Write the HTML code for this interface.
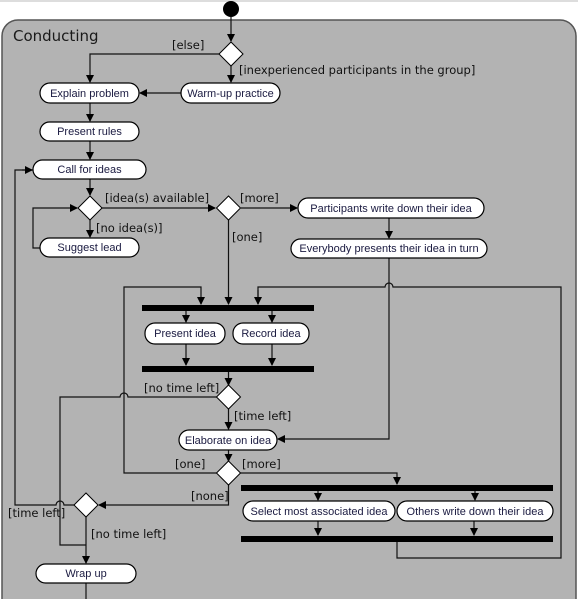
<!DOCTYPE html>
<html><head><meta charset="utf-8"><style>
html,body{margin:0;padding:0;background:#fff;}
svg{display:block;}
.b{fill:#fff;stroke:#000;stroke-width:1.2;}
.t{font-family:"Liberation Sans",sans-serif;font-size:11px;fill:#1a1a40;text-anchor:middle;}
.l{font-family:"DejaVu Sans",sans-serif;font-size:11.5px;fill:#111;}
.c{fill:none;stroke:#111;stroke-width:1.2;}
.d{fill:#fff;stroke:#000;stroke-width:1;}
</style></head><body>
<svg width="578" height="599" viewBox="0 0 578 599" xmlns="http://www.w3.org/2000/svg">
<defs><marker id="a" markerWidth="8" markerHeight="8" refX="7" refY="4" orient="auto" markerUnits="userSpaceOnUse"><path d="M0,0 L8,4 L0,8 z" fill="#000"/></marker></defs>
<rect x="0" y="0" width="578" height="2" fill="#ddd"/>
<rect x="2" y="20" width="574" height="600" rx="16" fill="#b3b3b3" stroke="#555" stroke-width="1.5"/>
<text x="13" y="41" font-family="'DejaVu Sans',sans-serif" font-size="15" fill="#1a1a1a">Conducting</text>
<circle cx="231" cy="9" r="8" fill="#000"/>
<!-- connectors -->
<path class="c" d="M231,17 V41" marker-end="url(#a)"/>
<path class="c" d="M219,54 H90 V82" marker-end="url(#a)"/>
<path class="c" d="M231,66 V82" marker-end="url(#a)"/>
<path class="c" d="M181,93 H140" marker-end="url(#a)"/>
<path class="c" d="M90,103 V121" marker-end="url(#a)"/>
<path class="c" d="M90,141 V159" marker-end="url(#a)"/>
<path class="c" d="M90,179 V195" marker-end="url(#a)"/>
<path class="c" d="M90,220 V237" marker-end="url(#a)"/>
<path class="c" d="M40,248 H33 V208 H77" marker-end="url(#a)"/>
<path class="c" d="M102,208 H215" marker-end="url(#a)"/>
<path class="c" d="M241,208 H297" marker-end="url(#a)"/>
<path class="c" d="M389,218 V238" marker-end="url(#a)"/>
<path class="c" d="M228.5,220 V304" marker-end="url(#a)"/>
<path class="c" d="M389,258 V439 H278" marker-end="url(#a)"/>
<path class="c" d="M258,304 V287 H385 A4,4 0 0 1 393,287 H561 V558 H397 V542"/>
<path class="c" d="M258,290 V304" marker-end="url(#a)"/>
<path class="c" d="M216.5,473 H124 V287 H201 V304" marker-end="url(#a)"/>
<path class="c" d="M186,311 V322" marker-end="url(#a)"/>
<path class="c" d="M272,311 V322" marker-end="url(#a)"/>
<path class="c" d="M186,344 V365" marker-end="url(#a)"/>
<path class="c" d="M272,344 V365" marker-end="url(#a)"/>
<path class="c" d="M228.5,372 V385" marker-end="url(#a)"/>
<path class="c" d="M216.5,397 H128 A4,4 0 0 0 120,397 H60 V545 H86"/>
<path class="c" d="M228.5,409 V429" marker-end="url(#a)"/>
<path class="c" d="M228.5,450 V461" marker-end="url(#a)"/>
<path class="c" d="M240.5,473 H397 V484" marker-end="url(#a)"/>
<path class="c" d="M228.5,485 V505 H99" marker-end="url(#a)"/>
<path class="c" d="M33,170 H15 V505 H56 A4,4 0 0 1 64,505 H74"/>
<path class="c" d="M22,170 H32" marker-end="url(#a)"/>
<path class="c" d="M86,517 V563" marker-end="url(#a)"/>
<path class="c" d="M86,583 V599"/>
<path class="c" d="M318,491 V500" marker-end="url(#a)"/>
<path class="c" d="M475,491 V500" marker-end="url(#a)"/>
<path class="c" d="M318,521 V535" marker-end="url(#a)"/>
<path class="c" d="M474,521 V535" marker-end="url(#a)"/>
<!-- bars -->
<rect x="142" y="305" width="172" height="6" fill="#000"/>
<rect x="142" y="366" width="172" height="6" fill="#000"/>
<rect x="241" y="485" width="312" height="6" fill="#000"/>
<rect x="241" y="536" width="312" height="6" fill="#000"/>
<!-- diamonds -->
<path class="d" d="M231,42 L243,54 L231,66 L219,54 z"/>
<path class="d" d="M90,196 L102,208 L90,220 L78,208 z"/>
<path class="d" d="M228.5,196 L240.5,208 L228.5,220 L216.5,208 z"/>
<path class="d" d="M228.5,385 L240.5,397 L228.5,409 L216.5,397 z"/>
<path class="d" d="M228.5,461 L240.5,473 L228.5,485 L216.5,473 z"/>
<path class="d" d="M86,493 L98,505 L86,517 L74,505 z"/>
<!-- boxes -->
<rect class="b" x="40" y="83" width="99" height="20" rx="10"/><text class="t" x="89.5" y="97">Explain problem</text>
<rect class="b" x="181" y="83" width="99" height="20" rx="10"/><text class="t" x="230.5" y="97">Warm-up practice</text>
<rect class="b" x="40" y="122" width="99" height="19" rx="9.5"/><text class="t" x="89.5" y="135">Present rules</text>
<rect class="b" x="33" y="160" width="113" height="19" rx="9.5"/><text class="t" x="89.5" y="173">Call for ideas</text>
<rect class="b" x="40" y="238" width="99" height="19" rx="9.5"/><text class="t" x="89.5" y="251">Suggest lead</text>
<rect class="b" x="298" y="198" width="186" height="20" rx="10"/><text class="t" x="391" y="212">Participants write down their idea</text>
<rect class="b" x="291" y="239" width="196" height="19" rx="9.5"/><text class="t" x="389" y="252">Everybody presents their idea in turn</text>
<rect class="b" x="145" y="323" width="80" height="21" rx="10"/><text class="t" x="185" y="337">Present idea</text>
<rect class="b" x="233" y="323" width="76" height="21" rx="10"/><text class="t" x="271" y="337">Record idea</text>
<rect class="b" x="179" y="430" width="98" height="20" rx="10"/><text class="t" x="228" y="444">Elaborate on idea</text>
<rect class="b" x="243" y="501" width="152" height="20" rx="10"/><text class="t" x="319" y="515">Select most associated idea</text>
<rect class="b" x="397" y="501" width="156" height="20" rx="10"/><text class="t" x="475" y="515">Others write down their idea</text>
<rect class="b" x="36" y="564" width="100" height="19" rx="9.5"/><text class="t" x="86" y="577">Wrap up</text>
<!-- labels -->
<text class="l" x="172" y="49">[else]</text>
<text class="l" x="239" y="74">[inexperienced participants in the group]</text>
<text class="l" x="105" y="202">[idea(s) available]</text>
<text class="l" x="96" y="232">[no idea(s)]</text>
<text class="l" x="240" y="202">[more]</text>
<text class="l" x="232" y="241">[one]</text>
<text class="l" x="144" y="392">[no time left]</text>
<text class="l" x="234" y="420">[time left]</text>
<text class="l" x="175" y="468">[one]</text>
<text class="l" x="242" y="468">[more]</text>
<text class="l" x="191" y="500">[none]</text>
<text class="l" x="8" y="517">[time left]</text>
<text class="l" x="91" y="538">[no time left]</text>
</svg>
</body></html>
